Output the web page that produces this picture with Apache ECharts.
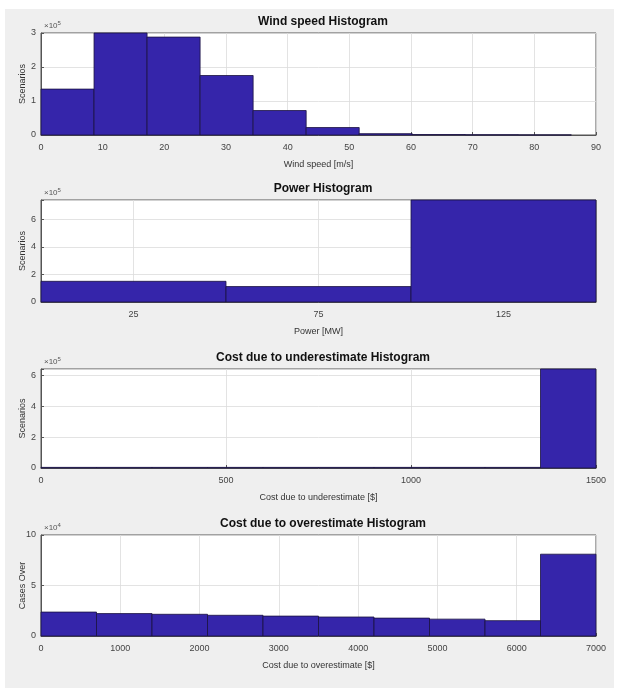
<!DOCTYPE html>
<html>
<head>
<meta charset="utf-8">
<script src="https://cdn.jsdelivr.net/npm/echarts@6/dist/echarts.min.js"></script>
<style>
  html, body { margin: 0; padding: 0; background: #fff; }
  #main { width: 619px; height: 692px; }
</style>
</head>
<body>
<div id="main"></div>
<script>
// bin edges and counts (counts already divided by the axis multiplier)
var windEdges = [0, 8.6, 17.2, 25.8, 34.4, 43, 51.6, 60.2, 68.8, 77.4, 86];
var windCounts = [1.35, 3.0, 2.88, 1.75, 0.72, 0.22, 0.04, 0.012, 0.006, 0.003]; // x1e5

var powerEdges = [0, 50, 100, 150];
var powerCounts = [1.5, 1.12, 7.4]; // x1e5

var underEdges = [0, 150, 300, 450, 600, 750, 900, 1050, 1200, 1350, 1500];
var underCounts = [0.04, 0.04, 0.04, 0.04, 0.04, 0.04, 0.04, 0.04, 0.04, 6.4]; // x1e5

var overEdges = [0, 700, 1400, 2100, 2800, 3500, 4200, 4900, 5600, 6300, 7000];
var overCounts = [2.37, 2.22, 2.15, 2.05, 1.97, 1.88, 1.77, 1.67, 1.52, 8.1]; // x1e4

var titles = ['Wind speed Histogram', 'Power Histogram', 'Cost due to underestimate Histogram', 'Cost due to overestimate Histogram'];
var xNames = ['Wind speed [m/s]', 'Power [MW]', 'Cost due to underestimate [$]', 'Cost due to overestimate [$]'];
var yNames = ['Scenarios', 'Scenarios', 'Scenarios', 'Cases Over'];
var exponents = ['5', '5', '5', '4'];

var panels = [
    {edges: windEdges, counts: windCounts, xmin: 0, xmax: 90, xint: 10, ymax: 3, yint: 1},
    {edges: powerEdges, counts: powerCounts, xmin: 0, xmax: 150, xticks: [25, 75, 125], ymax: 7.4, yint: 2},
    {edges: underEdges, counts: underCounts, xmin: 0, xmax: 1500, xint: 500, ymax: 6.4, yint: 2},
    {edges: overEdges, counts: overCounts, xmin: 0, xmax: 7000, xint: 1000, ymax: 10, yint: 5}
];
var gridTops = [33, 200, 369, 535];
var gridHeights = [102, 102, 99, 101];

var barColor = '#3525aa';
var font = 'Liberation Sans, Arial, sans-serif';

function binData(edges, counts) {
    var out = [];
    for (var i = 0; i < counts.length; i++) {
        out.push([edges[i], edges[i + 1], counts[i]]);
    }
    return out;
}

function renderBin(params, api) {
    var p0 = api.coord([api.value(0), api.value(2)]);
    var p1 = api.coord([api.value(1), 0]);
    return {
        type: 'rect',
        shape: {x: p0[0], y: p0[1], width: p1[0] - p0[0], height: p1[1] - p0[1]},
        style: {fill: barColor, stroke: '#1a1240', lineWidth: 0.8}
    };
}

var option = {
    backgroundColor: '#fff',
    animation: false,
    title: [],
    grid: [],
    xAxis: [],
    yAxis: [],
    series: [],
    graphic: [{
        type: 'rect',
        z: -10,
        shape: {x: 5, y: 9, width: 609, height: 679},
        style: {fill: '#efefef'}
    }]
};

panels.forEach(function (p, i) {
    option.title.push({
        text: titles[i],
        left: 318,
        textAlign: 'center',
        top: gridTops[i] - 22,
        textStyle: {fontSize: 12, fontWeight: 'bold', color: '#111', fontFamily: font}
    });
    option.grid.push({
        left: 41, right: 23, top: gridTops[i], height: gridHeights[i],
        outerBoundsMode: 'none',
        show: true, backgroundColor: '#fff', borderColor: '#555', borderWidth: 1
    });
    var xa = {
        type: 'value', gridIndex: i, min: p.xmin, max: p.xmax,
        name: xNames[i], nameLocation: 'middle', nameGap: 25,
        nameTextStyle: {fontSize: 9, color: '#333', fontFamily: font},
        axisLine: {show: true, lineStyle: {color: '#555'}},
        axisTick: {show: true, inside: true, length: 3, lineStyle: {color: '#555'}},
        axisLabel: {fontSize: 9, color: '#444', margin: 8, fontFamily: font,
            formatter: function (v) { return String(v); }},
        splitLine: {show: true, lineStyle: {color: '#dcdcdc', width: 0.8}}
    };
    if (p.xticks) {
        xa.axisTick.customValues = p.xticks;
        xa.axisLabel.customValues = p.xticks;
    } else {
        xa.interval = p.xint;
    }
    option.xAxis.push(xa);
    option.yAxis.push({
        type: 'value', gridIndex: i, min: 0, max: p.ymax, interval: p.yint,
        name: yNames[i], nameLocation: 'middle', nameGap: 14, nameRotate: 90,
        nameMoveOverlap: false,
        nameTextStyle: {fontSize: 9, color: '#333', fontFamily: font},
        axisLine: {show: true, lineStyle: {color: '#555'}},
        axisTick: {show: true, inside: true, length: 3, lineStyle: {color: '#555'}},
        axisLabel: {
            fontSize: 9, color: '#444', margin: 5, fontFamily: font,
            formatter: function (v) { return (v % p.yint === 0) ? String(v) : ''; }
        },
        splitLine: {show: true, lineStyle: {color: '#dcdcdc', width: 0.8}}
    });
    option.series.push({
        type: 'custom',
        xAxisIndex: i, yAxisIndex: i,
        renderItem: renderBin,
        encode: {x: [0, 1], y: 2},
        data: binData(p.edges, p.counts)
    });
    option.graphic.push({
        type: 'text',
        x: 44, y: gridTops[i] - 13,
        style: {
            text: '\u00d710{s|' + exponents[i] + '}',
            fill: '#555',
            font: '8px ' + font,
            rich: {s: {fontSize: 6, fill: '#555', padding: [0, 0, 5, 0]}}
        }
    });
});

var chart = echarts.init(document.getElementById('main'));
chart.setOption(option);
</script>
</body>
</html>
